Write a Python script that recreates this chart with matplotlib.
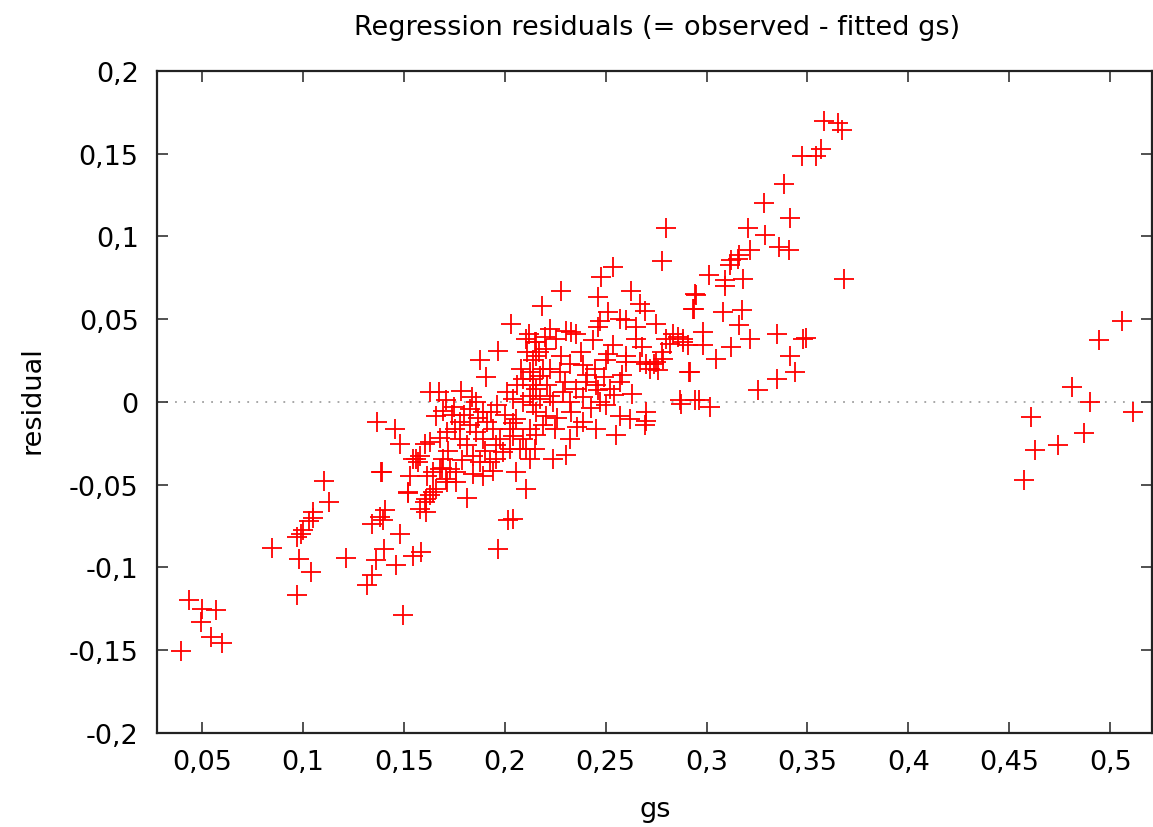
import matplotlib
matplotlib.use("Agg")
import matplotlib.pyplot as plt
from matplotlib.ticker import FixedLocator, FuncFormatter

# ---- data ----
gs = [
    # lower-left group
    0.0437, 0.0499, 0.0568, 0.0494, 0.0543, 0.0602, 0.0395,
    # 0.08 - 0.115
    0.0845, 0.0969, 0.1039, 0.0980, 0.0969, 0.0990, 0.1001, 0.1031, 0.1048, 0.1048, 0.1107, 0.1130,
    # 0.12 - 0.17
    0.1213, 0.1386, 0.1406, 0.1381, 0.1345, 0.1398, 0.1480, 0.1403, 0.1360, 0.1345, 0.1318, 0.1460,
    0.1546, 0.1584, 0.1497, 0.1521, 0.1563, 0.1612, 0.1612, 0.1645, 0.1678, 0.1695, 0.1711,
    # 0.13 - 0.22
    0.1967, 0.1880, 0.1906, 0.1674, 0.1786, 0.1368, 0.1456, 0.1481, 0.1390, 0.1522, 0.1604, 0.1815,
    0.2042, 0.2017, 0.1967,
    0.1629, 0.1604, 0.1571, 0.1613, 0.1646, 0.1662, 0.1695, 0.1728, 0.1761, 0.1712, 0.1753, 0.1778,
    0.1811, 0.1844, 0.1877, 0.1827, 0.1860, 0.1893, 0.1910, 0.1943, 0.1959, 0.1992, 0.2025, 0.2058,
    0.2108, 0.2124, 0.2091, 0.2124, 0.2157, 0.2058, 0.2091, 0.2124, 0.2157, 0.2009, 0.2042, 0.2141,
    0.2091, 0.2124, 0.2157, 0.2108, 0.1860, 0.1893, 0.1827, 0.1778, 0.1580, 0.1547, 0.1530, 0.1662,
    0.1629, 0.1580, 0.1712, 0.1761, 0.1844, 0.1893, 0.1926, 0.1959, 0.1976, 0.2025, 0.2042, 0.2075,
    0.2108, 0.2033,
    # 0.21 - 0.30
    0.2779, 0.2797, 0.2537, 0.2479, 0.2281, 0.2187, 0.2462, 0.2627, 0.2669, 0.2693, 0.2512, 0.2941,
    0.2933, 0.2603, 0.2751, 0.2462, 0.2330, 0.2355, 0.2306, 0.2223, 0.2198, 0.2149, 0.2256, 0.2834,
    0.2858, 0.2883, 0.2801, 0.2652, 0.2537, 0.2438, 0.2603, 0.2504, 0.2669, 0.2702, 0.2751, 0.2784,
    0.2916, 0.2446, 0.2388, 0.2322, 0.2273, 0.2223, 0.2174, 0.2141, 0.2405, 0.2454, 0.2520, 0.2570,
    0.2355, 0.2289, 0.2223, 0.2174, 0.2141, 0.2322, 0.2388, 0.2471, 0.2504, 0.2570, 0.2619, 0.2702,
    0.2693, 0.2553, 0.2454, 0.2388, 0.2322, 0.2248, 0.2207, 0.2190, 0.2157, 0.2240, 0.2306, 0.2149,
    0.2875, 0.2941, 0.2157, 0.2207, 0.2701,
    # dense core, additional
    0.1629, 0.1710, 0.1750, 0.1800, 0.1840, 0.1870, 0.1930, 0.1960, 0.2000, 0.2040, 0.2060, 0.2080,
    0.2110, 0.2140, 0.2170, 0.2190, 0.2210, 0.2240, 0.2260, 0.2280, 0.2300, 0.2330, 0.2360, 0.2380,
    0.2410, 0.2430, 0.2460, 0.2490, 0.2510, 0.2540, 0.2580, 0.2600, 0.2630, 0.2650, 0.2680, 0.2720,
    0.2740, 0.2760, 0.2780, 0.2820, 0.2120, 0.2570, 0.2470, 0.1790, 0.1720, 0.1690, 0.1680, 0.1740,
    0.1900, 0.1940,
    # 0.28 - 0.37
    0.3584, 0.3650, 0.3670, 0.3473, 0.3543, 0.3567, 0.3386, 0.3283, 0.3415, 0.3204, 0.3292, 0.3361,
    0.3407, 0.3213, 0.3163, 0.3155, 0.3122, 0.3114, 0.3011, 0.3089, 0.3089, 0.3180, 0.3680, 0.2949,
    0.2940, 0.3081, 0.3176, 0.3160, 0.2981, 0.3213, 0.3349, 0.3480, 0.3493, 0.2883, 0.2907, 0.2981,
    0.3122, 0.3048, 0.3415, 0.2915, 0.3440, 0.3349, 0.3254, 0.2965, 0.3015, 0.2866,
    # right group
    0.5058, 0.4946, 0.4810, 0.4899, 0.5115, 0.4607, 0.4871, 0.4743, 0.4627, 0.4571,
]

residual = [
    -0.120, -0.125, -0.126, -0.133, -0.142, -0.146, -0.1505,
    -0.0885, -0.1165, -0.1026, -0.0949, -0.0818, -0.0798, -0.0778, -0.0718, -0.0701, -0.0667, -0.0480, -0.0606,
    -0.0945, -0.0425, -0.0657, -0.0697, -0.0738, -0.0717, -0.0798, -0.0889, -0.0959, -0.1046, -0.1110, -0.0985,
    -0.0933, -0.0909, -0.1290, -0.0550, -0.0345, -0.0586, -0.0667, -0.0546, -0.0405, -0.0345, -0.0465,
    0.0310, 0.0250, 0.0153, 0.0058, 0.0068, -0.0123, -0.0164, -0.0254, -0.0425, -0.0546, -0.0607, -0.0583,
    -0.0708, -0.0712, -0.0889,
    -0.0244, -0.0254, -0.0365, -0.0446, -0.0425, -0.0083, -0.0053, -0.0405, -0.0425, -0.0184, -0.0164, -0.0224,
    -0.0264, -0.0325, -0.0365, -0.0043, -0.0002, -0.0063, -0.0123, -0.0164, -0.0264, -0.0305, -0.0284, -0.0425,
    -0.0526, -0.0345, -0.0224, -0.0164, -0.0063, -0.0103, -0.0002, 0.0038, 0.0078, 0.0058, 0.0018, 0.0139,
    0.0139, 0.0179, 0.0360, 0.0381, -0.0184, -0.0224, -0.0143, -0.0123, -0.0325, -0.0345, -0.0446, -0.0526,
    -0.0566, -0.0647, -0.0486, -0.0486, -0.0436, -0.0446, -0.0365, -0.0345, -0.0224, -0.0164, -0.0204, -0.0284,
    -0.0284, 0.0472,
    0.0854, 0.1052, 0.0814, 0.0754, 0.0673, 0.0582, 0.0633, 0.0673, 0.0593, 0.0552, 0.0542, 0.0653,
    0.0562, 0.0492, 0.0472, 0.0452, 0.0421, 0.0411, 0.0431, 0.0441, 0.0391, 0.0361, 0.0381, 0.0411,
    0.0391, 0.0361, 0.0381, 0.0381, 0.0341, 0.0371, 0.0280, 0.0250, 0.0240, 0.0230, 0.0240, 0.0260,
    0.0180, 0.0200, 0.0220, 0.0230, 0.0180, 0.0200, 0.0159, 0.0099, 0.0119, 0.0099, 0.0079, 0.0119,
    0.0079, 0.0059, 0.0038, 0.0018, -0.0022, -0.0002, 0.0028, -0.0002, -0.0022, -0.0083, -0.0103, -0.0063,
    -0.0143, -0.0203, -0.0163, -0.0123, -0.0224, -0.0163, -0.0083, -0.0143, -0.0203, -0.0344, -0.0324, -0.0284,
    -0.0012, 0.0008, 0.0280, 0.0321, -0.0113,
    0.0059, 0.0010, -0.0030, -0.0080, 0.0030, -0.0100, -0.0060, -0.0020, -0.0080, -0.0130, 0.0100, 0.0200,
    0.0300, 0.0250, 0.0300, 0.0200, 0.0100, 0.0000, -0.0100, 0.0280, 0.0120, -0.0060, -0.0150, 0.0300,
    0.0160, -0.0040, 0.0070, 0.0150, 0.0290, 0.0040, 0.0160, 0.0240, 0.0050, 0.0450, 0.0330, 0.0200,
    0.0230, 0.0190, 0.0300, 0.0350, 0.0410, 0.0500, 0.0490, -0.0350, -0.0300, -0.0400, -0.0220, -0.0080,
    -0.0300, -0.0420,
    0.1697, 0.1687, 0.1641, 0.1485, 0.1489, 0.1530, 0.1318, 0.1201, 0.1113, 0.1052, 0.1006, 0.0939,
    0.0919, 0.0915, 0.0885, 0.0865, 0.0855, 0.0825, 0.0764, 0.0734, 0.0700, 0.0744, 0.0740, 0.0643,
    0.0563, 0.0543, 0.0553, 0.0462, 0.0422, 0.0381, 0.0411, 0.0381, 0.0385, 0.0381, 0.0341, 0.0341,
    0.0331, 0.0260, 0.0280, 0.0180, 0.0180, 0.0139, 0.0069, 0.0008, -0.0032, 0.0008,
    0.0488, 0.0371, 0.0087, -0.0002, -0.0059, -0.0089, -0.0189, -0.0260, -0.0294, -0.0470,
]

x_ticks = [0.05, 0.10, 0.15, 0.20, 0.25, 0.30, 0.35, 0.40, 0.45, 0.50]
y_ticks = [-0.20, -0.15, -0.10, -0.05, 0.0, 0.05, 0.10, 0.15, 0.20]

title = "Regression residuals (= observed - fitted gs)"
x_label = "gs"
y_label = "residual"

# ---- figure ----
plt.rcParams['font.family'] = ['DejaVu Sans']
fig = plt.figure(figsize=(11.53, 8.28), dpi=100)
ax = fig.add_axes([0.1359, 0.114, 0.8631, 0.799])

ax.axhline(0.0, color='#a0a0a0', lw=1.3, linestyle=(0, (1, 4)), zorder=1)
ax.plot(gs, residual, linestyle='none', marker='+', markersize=14.5,
        markeredgewidth=1.3, color='#ff0000', zorder=3)

ax.set_xlim(0.0276, 0.5206)
ax.set_ylim(-0.2, 0.2)


def comma_fmt(v, pos=None):
    s = ('%.2f' % v).rstrip('0').rstrip('.')
    if s in ('-0', ''):
        s = '0'
    return s.replace('.', ',')


ax.xaxis.set_major_locator(FixedLocator(x_ticks))
ax.yaxis.set_major_locator(FixedLocator(y_ticks))
ax.xaxis.set_major_formatter(FuncFormatter(comma_fmt))
ax.yaxis.set_major_formatter(FuncFormatter(comma_fmt))

ax.tick_params(axis='both', which='major', direction='in', length=8, width=1.2,
               color='#333333', labelsize=19.5, labelcolor='black',
               top=True, right=True)
ax.tick_params(axis='x', pad=12)
ax.tick_params(axis='y', pad=13)

for sp in ax.spines.values():
    sp.set_linewidth(1.6)
    sp.set_color('#222222')

fig.text(0.570, 0.966, title, ha='center', va='center', fontsize=19.5)
fig.text(0.568, 0.022, x_label, ha='center', va='center', fontsize=19.5)
fig.text(0.028, 0.517, y_label, ha='center', va='center', fontsize=19.5, rotation=90)

fig.savefig("out.png", dpi=100)
